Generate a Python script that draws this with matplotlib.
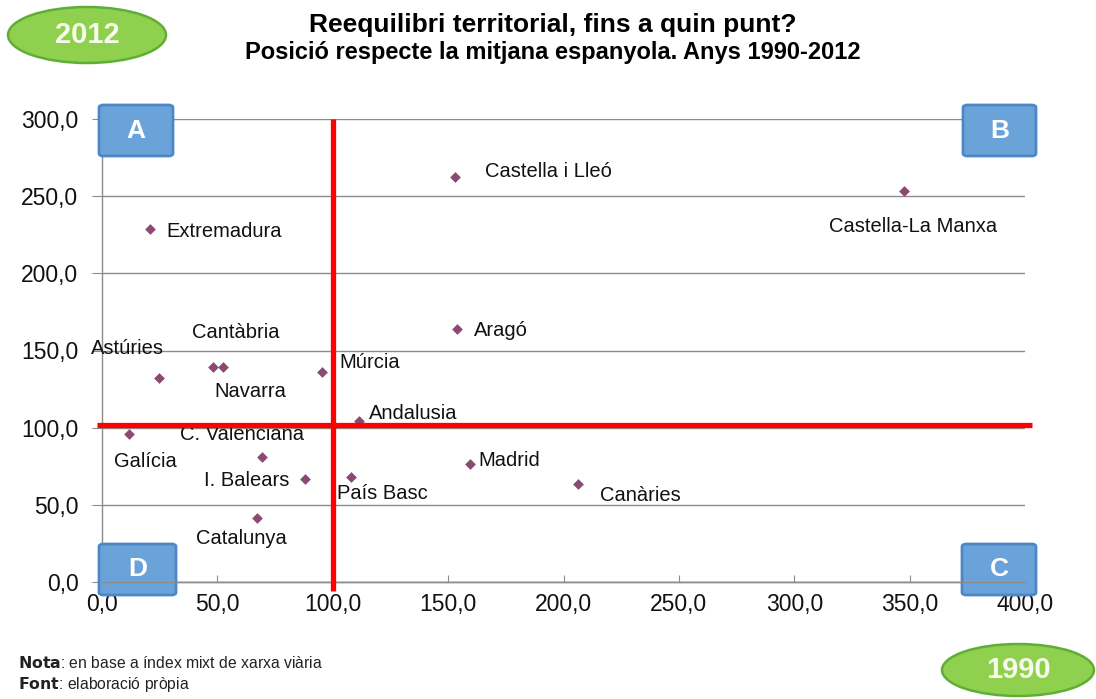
import matplotlib
matplotlib.use("Agg")
import matplotlib.pyplot as plt
from matplotlib.patches import FancyBboxPatch, Ellipse
from matplotlib.ticker import FuncFormatter

plt.rcParams["font.family"] = ["Liberation Sans", "DejaVu Sans"]

# Regions: x = position in 1990, y = position in 2012 (Spain average = 100)
regions = ["Extremadura", "Castella i Lleó", "Castella-La Manxa", "Aragó",
           "Astúries", "Cantàbria", "Navarra", "Múrcia", "Andalusia",
           "Galícia", "C. Valenciana", "I. Balears", "País Basc", "Madrid",
           "Canàries", "Catalunya"]
x_1990 = [20.8, 153.0, 347.6, 153.8, 24.7, 48.1, 52.4, 95.5, 111.5,
          11.7, 69.2, 88.0, 107.8, 159.5, 206.3, 67.3]
y_2012 = [228.7, 262.4, 253.4, 163.9, 132.5, 139.1, 139.1, 135.9, 104.5,
          95.7, 80.8, 66.7, 68.2, 76.5, 63.5, 41.7]

x_ticks = [0, 50, 100, 150, 200, 250, 300, 350, 400]
y_ticks = [0, 50, 100, 150, 200, 250, 300]
x_ref = 100.0   # vertical reference line
y_ref = 102.0   # horizontal reference line

# label placement (pixel offsets from the marker: dx, dy)
label_offsets = {
    "Extremadura": (16, -2), "Castella i Lleó": (30, 6),
    "Castella-La Manxa": (-75, -36), "Aragó": (17, -1),
    "Astúries": (-68, 29), "Cantàbria": (-21, 35), "Navarra": (-9, -24),
    "Múrcia": (17, 10), "Andalusia": (10, 7), "Galícia": (-15, -27),
    "C. Valenciana": (-82, 23), "I. Balears": (-101, -1),
    "País Basc": (-14, -17), "Madrid": (8, 3), "Canàries": (22, -12),
    "Catalunya": (-61, -21),
}

W, H = 1096, 699
fig = plt.figure(figsize=(W / 100, H / 100), dpi=100)
ax = fig.add_axes([102 / W, 1 - 582 / H, 923 / W, 463 / H])

grid_col = "#8c8c8c"
ax.set_xlim(0, 400)
ax.set_ylim(0, 300)
ax.set_xticks(x_ticks)
ax.set_yticks(y_ticks)
fmt = FuncFormatter(lambda v, p: f"{v:.1f}".replace(".", ","))
ax.xaxis.set_major_formatter(fmt)
ax.yaxis.set_major_formatter(fmt)
ax.grid(axis="y", color=grid_col, linewidth=1.0)
ax.set_axisbelow(True)
for s in ["top", "right"]:
    ax.spines[s].set_visible(False)
for s in ["left", "bottom"]:
    ax.spines[s].set_color(grid_col)
    ax.spines[s].set_linewidth(1.0)
ax.tick_params(axis="y", direction="out", length=7, color=grid_col,
               labelsize=16.5, pad=10, labelcolor="#111111")
ax.tick_params(axis="x", direction="in", length=5, color=grid_col,
               labelsize=16.5, pad=8, labelcolor="#111111")

# reference lines
ax.plot([x_ref, x_ref], [-6, 300], color="#ff0000", linewidth=3.8,
        clip_on=False, zorder=9, solid_capstyle="butt")
ax.plot([-2, 403], [y_ref, y_ref], color="#ff0000", linewidth=3.8,
        clip_on=False, zorder=9, solid_capstyle="butt")

ax.scatter(x_1990, y_2012, marker="D", s=30, color="#8b4a72", zorder=4,
           linewidths=0)

for name, xv, yv in zip(regions, x_1990, y_2012):
    dx, dy = label_offsets[name]
    ax.annotate(name, (xv, yv), xytext=(dx, dy), textcoords="offset pixels",
                ha="left", va="center", fontsize=14.5, color="#111111",
                zorder=5)

# title
fig.text(553 / W, 1 - 25 / H, "Reequilibri territorial, fins a quin punt?",
         ha="center", va="center", fontsize=19, fontweight="bold")
fig.text(553 / W, 1 - 53 / H,
         "Posició respecte la mitjana espanyola. Anys 1990-2012",
         ha="center", va="center", fontsize=17, fontweight="bold")

# quadrant tags (placed in figure pixels, drawn beneath the x-axis line)
def tag(x0, y0, x1, y1, letter):
    box = FancyBboxPatch((x0 / W, 1 - y1 / H), (x1 - x0) / W, (y1 - y0) / H,
                         boxstyle="round,pad=0,rounding_size=0.004",
                         transform=fig.transFigure, facecolor="#6aa2da",
                         edgecolor="#4f86c6", linewidth=2.0, zorder=6,
                         clip_on=False)
    ax.add_patch(box)
    ax.text((x0 + x1) / 2 / W, 1 - (y0 + y1) / 2 / H, letter,
            transform=fig.transFigure, ha="center", va="center",
            fontsize=19, fontweight="bold", color="white", zorder=7,
            clip_on=False)

tag(99, 105, 173, 156, "A")
tag(963, 105, 1036, 156, "B")
tag(99, 544, 176, 595, "D")
tag(962, 544, 1036, 595, "C")

# x-axis line stays visible across the lower tags
ax.plot([0, 400], [0, 0], color=grid_col, linewidth=1.0, zorder=8,
        clip_on=False)

# year badges
def badge(cx, cy, w, h, label):
    e = Ellipse((cx / W, 1 - cy / H), w / W, h / H, transform=fig.transFigure,
                facecolor="#8fd04e", edgecolor="#5fae35", linewidth=1.8,
                zorder=10)
    fig.patches.append(e)
    fig.text(cx / W, 1 - cy / H, label, ha="center", va="center",
             fontsize=21, fontweight="bold", color="#f7fbec", zorder=11)

badge(87, 35, 158, 56, "2012")
badge(1018, 670, 152, 52, "1990")

# notes
fig.text(18 / W, 1 - 663 / H, r"$\bf{Nota}$: en base a índex mixt de xarxa viària",
         ha="left", va="center", fontsize=11.3, color="#222222")
fig.text(18 / W, 1 - 684 / H, r"$\bf{Font}$: elaboració pròpia",
         ha="left", va="center", fontsize=11.3, color="#222222")

fig.savefig("out.png", dpi=100, facecolor="white")
